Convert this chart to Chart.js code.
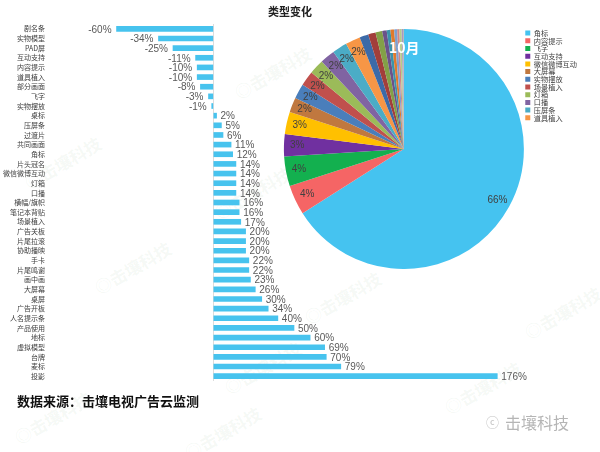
<!DOCTYPE html>
<html>
<head>
<meta charset="utf-8">
<script src="https://cdn.jsdelivr.net/npm/chart.js@4.4.0/dist/chart.umd.min.js"></script>
<style>
  body { margin: 0; background: #fff; width: 600px; height: 452px; overflow: hidden; position: relative; font-family: "Noto Sans CJK SC", sans-serif; }
  #barBox { position: absolute; left: 0; top: 0; width: 600px; height: 452px; }
  #pieBox { position: absolute; left: 283px; top: 29px; width: 304px; height: 240px; }
  .txt { position: absolute; white-space: nowrap; }
  #title { left: 268px; top: 3px; font-size: 11px; font-weight: bold; color: #222; }
  #month { left: 389px; top: 37px; font-size: 14px; font-weight: bold; color: #fff; }
  #source { left: 17px; top: 391px; font-size: 13px; font-weight: bold; color: #111; }
  #brand { left: 505px; top: 410px; font-size: 16px; color: #b5b5b5; }
  #bubble { left: 486px; top: 412px; font-size: 13px; color: #c4c4c4; }
  .wm { position: absolute; font-size: 17px; font-weight: bold; color: rgba(120, 170, 120, 0.08); transform: rotate(-30deg); white-space: nowrap; }
</style>
</head>
<body>
<div class="wm" style="left:230px;top:60px">◎击壤科技</div>
<div class="wm" style="left:20px;top:150px">◎击壤科技</div>
<div class="wm" style="left:210px;top:180px">◎击壤科技</div>
<div class="wm" style="left:90px;top:255px">◎击壤科技</div>
<div class="wm" style="left:300px;top:285px">◎击壤科技</div>
<div class="wm" style="left:520px;top:300px">◎击壤科技</div>
<div class="wm" style="left:220px;top:355px">◎击壤科技</div>
<div class="wm" style="left:440px;top:375px">◎击壤科技</div>
<div class="wm" style="left:10px;top:405px">◎击壤科技</div>
<div class="wm" style="left:180px;top:420px">◎击壤科技</div>
<div id="barBox"><canvas id="bars"></canvas></div>
<div id="pieBox"><canvas id="pie"></canvas></div>
<div class="txt" id="title">类型变化</div>
<div class="txt" id="month">10月</div>
<div class="txt" id="source">数据来源：击壤电视广告云监测</div>
<div class="txt" id="bubble">ⓒ</div>
<div class="txt" id="brand">击壤科技</div>
<script>
// 各类型环比变化 (%)
const typeNames = [
  "剧名条", "实物模型", "PAD屏", "互动支持", "内容提示", "道具植入", "部分画面",
  "飞字", "实物摆放", "桌标", "压屏条", "过渡片", "共同画面", "角标", "片头冠名",
  "微信微博互动", "灯箱", "口播", "横幅/旗帜", "笔记本背贴", "场景植入", "广告关板",
  "片尾拉滚", "协助播映", "手卡", "片尾鸣谢", "画中画", "大屏幕", "桌屏", "广告开板",
  "人名提示条", "产品使用", "地标", "虚拟模型", "台牌", "麦标", "投影"
];
const changeValues = [
  -60, -34, -25, -11, -10, -10, -8, -3, -1, 2, 5, 6, 11, 12, 14, 14, 14, 14,
  16, 16, 17, 20, 20, 20, 22, 22, 23, 26, 30, 34, 40, 50, 60, 69, 70, 79, 176
];

// 10月 各类型占比 (%)
const shareNames = [
  "角标", "内容提示", "飞字", "互动支持", "微信微博互动", "大屏幕", "实物摆放",
  "场景植入", "灯箱", "口播", "压屏条", "道具植入", "片头冠名", "横幅/旗帜",
  "笔记本背贴", "广告关板", "片尾拉滚", "协助播映", "手卡", "片尾鸣谢", "画中画",
  "桌标", "过渡片"
];
const shareValues = [
  66, 4, 4, 3, 3, 2, 2, 2, 2, 2, 2, 2,
  1.2, 1.0, 0.9, 0.6, 0.5, 0.5, 0.4, 0.3, 0.3, 0.2, 0.1
];

const shareColors = [
  "#45c3f0", "#f56565", "#13b04f", "#7030a0", "#ffc000", "#c0783f", "#4a7ebb",
  "#c0504d", "#9bbb59", "#8064a2", "#4bacc6", "#f79646", "#3c6aa8", "#a23e3b",
  "#83a047", "#6b5289", "#3b93ab", "#e07a2c", "#7f9fcf", "#d28684", "#b5cd8a",
  "#a898c0", "#a8a8a8"
];

const NUM_FONT = '10px "Liberation Sans", sans-serif';

const barValueLabels = {
  id: "barValueLabels",
  afterDatasetsDraw(chart) {
    const ctx = chart.ctx;
    const meta = chart.getDatasetMeta(0);
    ctx.save();
    ctx.font = NUM_FONT;
    ctx.fillStyle = "#595959";
    ctx.textBaseline = "middle";
    meta.data.forEach((bar, i) => {
      const v = changeValues[i];
      ctx.textAlign = v < 0 ? "right" : "left";
      ctx.fillText(v + "%", bar.x + (v < 0 ? -5 : 4), bar.y + 1);
    });
    ctx.restore();
  }
};

const pieValueLabels = {
  id: "pieValueLabels",
  afterDatasetsDraw(chart) {
    const ctx = chart.ctx;
    const meta = chart.getDatasetMeta(0);
    ctx.save();
    ctx.font = NUM_FONT;
    ctx.fillStyle = "#404040";
    ctx.textAlign = "center";
    ctx.textBaseline = "middle";
    meta.data.forEach((arc, i) => {
      const v = shareValues[i];
      if (v < 1.5) return;
      const mid = (arc.startAngle + arc.endAngle) / 2;
      const r = arc.outerRadius * 0.89;
      ctx.fillText(Math.round(v) + "%", arc.x + Math.cos(mid) * r, arc.y + Math.sin(mid) * r);
    });
    ctx.restore();
  }
};

new Chart(document.getElementById("bars"), {
  type: "bar",
  data: {
    labels: typeNames,
    datasets: [{
      data: changeValues,
      backgroundColor: "#47c3ee",
      barThickness: 5
    }]
  },
  options: {
    indexAxis: "y",
    responsive: true,
    maintainAspectRatio: false,
    animation: false,
    layout: { padding: { top: 24, bottom: 71, left: 0, right: 64 } },
    plugins: {
      legend: { display: false },
      tooltip: { enabled: false }
    },
    scales: {
      x: {
        min: -100,
        max: 200,
        ticks: { display: false, stepSize: 100 },
        grid: {
          drawTicks: false,
          color: c => (c.tick && c.tick.value === 0 ? "#dcdcdc" : "transparent")
        },
        border: { display: false }
      },
      y: {
        ticks: {
          autoSkip: false,
          padding: 7,
          color: "#404040",
          font: { size: 7, family: '"Noto Sans CJK SC"' }
        },
        grid: { display: false, drawTicks: false },
        border: { display: false },
        afterFit: s => { s.width = 52; }
      }
    }
  },
  plugins: [barValueLabels]
});

new Chart(document.getElementById("pie"), {
  type: "pie",
  data: {
    labels: shareNames,
    datasets: [{
      data: shareValues,
      backgroundColor: shareColors,
      borderWidth: 0
    }]
  },
  options: {
    responsive: true,
    maintainAspectRatio: false,
    animation: false,
    layout: { padding: 0 },
    plugins: {
      legend: {
        position: "right",
        align: "start",
        labels: {
          boxWidth: 5,
          boxHeight: 5,
          padding: 0.5,
          color: "#404040",
          font: { size: 7.2, family: '"Noto Sans CJK SC"' },
          filter: item => item.index < 12
        }
      },
      tooltip: { enabled: false }
    }
  },
  plugins: [pieValueLabels]
});
</script>
</body>
</html>
